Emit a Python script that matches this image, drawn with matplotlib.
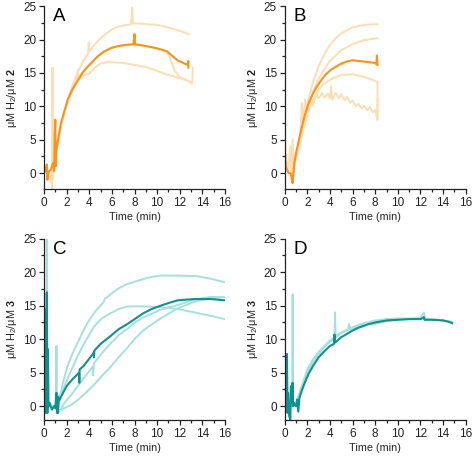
import matplotlib
matplotlib.use("Agg")
import matplotlib.pyplot as plt
from matplotlib.ticker import MultipleLocator

plt.rcParams['font.family'] = ['Liberation Sans', 'DejaVu Sans']
plt.rcParams['mathtext.fontset'] = 'custom'
plt.rcParams['mathtext.rm'] = 'Liberation Sans'
plt.rcParams['mathtext.bf'] = 'Liberation Sans:bold'

orange = "#F7931E"
orange_light = "#FDDDB3"
teal = "#11918E"
teal_light = "#A6E0DD"

# ---- panel A ----
a_main_t = [0, 0.15, 0.25, 0.3, 0.4, 0.6, 0.8, 0.9, 0.95, 1.0, 1.05, 1.1, 1.3, 1.5, 1.8, 2.1, 2.5, 3, 3.4, 3.8, 4.2, 4.7, 5.3, 5.9, 6.5, 7.2, 7.9, 8.0, 8.05, 8.8, 9.7, 10.4, 10.9, 11.3, 11.8, 12.3, 12.7, 12.75, 12.75]
a_main_y = [0, 0.5, 1.3, -1, 0.2, 0.5, 1.5, 0.3, 6, 8, 1, 3.5, 5.5, 7.5, 9.3, 11, 12.5, 13.9, 15, 15.8, 16.5, 17.4, 18.2, 18.7, 19.0, 19.2, 19.3, 20.8, 19.3, 19.1, 18.8, 18.5, 18.2, 17.6, 16.9, 16.5, 16.2, 16.8, 15.8]
a_l1_t = [0.7, 0.75, 0.8, 1, 1.5, 2, 2.5, 3, 3.5, 3.9, 3.95, 4, 4.5, 5, 5.5, 6, 6.5, 7, 7.7, 7.8, 7.85, 8.5, 9, 10, 11, 12, 12.8]
a_l1_y = [-2.4, 5, 0, 2.5, 7, 10.3, 13, 15.2, 16.9, 17.9, 19.5, 18.2, 19.3, 20.2, 20.9, 21.5, 21.9, 22.1, 22.3, 24.8, 22.4, 22.4, 22.3, 22.2, 21.8, 21.3, 20.8]
a_l2_t = [0.5, 0.7, 0.75, 0.8, 1, 1.5, 2, 2.5, 2.9, 3.0, 3.05, 3.5, 4, 4.5, 5, 5.5, 6, 7, 8, 9, 10, 11, 12, 12.8, 13.1, 13.15]
a_l2_y = [0, -2, 15.8, -1, 2.5, 7.2, 10.3, 12.5, 13.8, 15.5, 14, 14.6, 14.9, 15.8, 16.4, 16.6, 16.6, 16.5, 16.2, 15.9, 15.3, 14.7, 14.2, 13.8, 13.5, 15.8]
a_l3_t = [1, 1.5, 2, 2.5, 3, 3.5, 4, 5, 6, 7, 8, 9, 10, 10.8, 11.1, 11.5, 12, 12.5, 13.05]
a_l3_y = [3, 7.2, 10.2, 12.3, 14.1, 15.3, 16.3, 17.9, 18.8, 19.1, 19.2, 19.0, 18.6, 18.3, 17.4, 15.5, 14.4, 14.0, 13.4]

# ---- panel B ----
b_main_t = [0, 0.05, 0.1, 0.2, 0.35, 0.5, 0.6, 0.7, 0.75, 0.85, 1, 1.2, 1.5, 1.8, 2.1, 2.5, 2.9, 3.3, 3.7, 4.1, 4.5, 5, 5.5, 6, 6.5, 7, 7.5, 8, 8.1, 8.15, 8.2]
b_main_y = [6, 2, 1, 0.5, 0, 0, -0.5, -1.5, -0.5, 1.5, 3, 4.5, 6.8, 8.8, 10.4, 11.9, 13.1, 14.1, 14.9, 15.5, 15.9, 16.4, 16.7, 16.9, 16.8, 16.7, 16.6, 16.5, 16.3, 17.6, 16.2]
b_l1_t = [1, 1.5, 2, 2.5, 3, 3.5, 4, 4.5, 5, 5.5, 6, 7, 8.2]
b_l1_y = [2, 6.3, 10.3, 13.6, 16, 17.8, 19.2, 20.2, 20.9, 21.4, 21.8, 22.2, 22.3]
b_l2_t = [1, 1.5, 2, 2.5, 3, 3.5, 4, 5, 6, 7, 8.2]
b_l2_y = [2, 5.8, 9.5, 12.2, 14.1, 15.6, 16.8, 18.4, 19.3, 19.9, 20.2]
b_l3_t = [1, 1.5, 2, 2.5, 3, 3.5, 4, 5, 6, 7, 8.2, 8.2]
b_l3_y = [2, 5.5, 8.8, 11, 12.5, 13.4, 14, 14.7, 14.8, 14.4, 13.7, 8]
b_l4_t = [0, 0.05, 0.3, 0.5, 0.6, 0.7, 0.8, 1, 1.4, 1.5, 1.6, 1.8, 2, 2.3, 2.5, 2.8, 3, 3.3, 3.5, 3.8, 4, 4.1, 4.2, 4.5, 4.8, 5, 5.3, 5.5, 5.8, 6, 6.3, 6.5, 6.8, 7, 7.3, 7.5, 7.8, 8, 8.2, 8.2]
b_l4_y = [19, 3, 0.5, 4, -1, 5, 0, 2.5, 6, 10.5, 7.5, 11, 9.5, 10.8, 10.2, 11.8, 11.2, 12, 11.3, 11.9, 11.2, 13, 11, 12, 11.2, 11.8, 10.9, 11.4, 10.5, 10.9, 10, 10.4, 9.7, 10.1, 9.4, 9.9, 9.1, 9.5, 8, 11]

# ---- panel C ----
c_main_t = [0, 0.05, 0.1, 0.15, 0.2, 0.25, 0.3, 0.35, 0.4, 0.5, 0.7, 0.9, 1.0, 1.1, 1.15, 1.2, 1.25, 1.3, 1.35, 2, 2.5, 3.1, 3.12, 3.15, 3.5, 4, 4.4, 4.42, 4.45, 5, 5.9, 6.6, 7.4, 8.1, 8.8, 9.5, 10.3, 11, 11.8, 12.5, 13.3, 14, 14.7, 15.4, 16]
c_main_y = [5, 14.5, 0, -1, 2, 17, -1, 8.5, 0, 0.5, -0.5, 0, -0.3, 2, -1, 1.5, -1, 1.3, 0.9, 3.0, 4.0, 5.0, 3.5, 5.5, 6.0, 7.1, 8.0, 7.3, 8.3, 9.3, 10.5, 11.5, 12.3, 13.1, 13.9, 14.5, 15.0, 15.4, 15.8, 15.9, 16.0, 16.0, 16.0, 15.9, 15.8]
c_l1_t = [0.2, 0.25, 0.3, 1.05, 1.1, 1.15, 1.3, 1.6, 2.06, 2.5, 2.95, 3.4, 3.83, 4.5, 5.3, 5.35, 6.5, 7.3, 8.25, 9.2, 10.3, 11.8, 13.6, 14.8, 16]
c_l1_y = [0, 26, 0, 0, 9, 0, 0.5, 3, 5.9, 7.8, 9.4, 11.0, 12.4, 14.1, 15.6, 16.0, 17.5, 18.2, 18.7, 19.2, 19.5, 19.5, 19.4, 19.0, 18.5]
c_l2_t = [1.3, 1.8, 2.4, 2.95, 3.6, 4.42, 5.1, 5.9, 6.6, 7.4, 8.84, 10.3, 11.8, 13.3, 14.7, 16]
c_l2_y = [0.5, 3.0, 5.3, 7.4, 9.5, 11.9, 13.1, 13.9, 14.5, 14.9, 14.9, 14.8, 14.5, 14.0, 13.5, 13.0]
c_l3_t = [1.5, 1.77, 2.4, 2.95, 3.6, 4.3, 4.32, 4.42, 5.1, 5.9, 6.6, 7.4, 8.1, 8.84, 10.3, 11.8, 13.3, 14.7, 16]
c_l3_y = [-0.5, 0.4, 1.7, 2.9, 4.4, 5.9, 4.6, 6.4, 7.9, 9.4, 10.6, 11.6, 12.6, 13.3, 14.4, 15.1, 15.9, 16.3, 16.3]
c_l4_t = [1.6, 1.77, 2.4, 2.95, 3.7, 4.42, 5.1, 5.9, 6.6, 7.4, 8.1, 8.84, 9.6, 10.3, 11.1, 11.8, 13.3, 14.7, 16]
c_l4_y = [-0.5, -0.3, 0.2, 0.9, 2.0, 3.2, 4.5, 5.9, 7.3, 8.8, 10.2, 11.4, 12.3, 13.1, 13.9, 14.6, 15.6, 16.1, 16.3]

# ---- panel D ----
d_main_t = [0, 0.05, 0.1, 0.15, 0.2, 0.25, 0.3, 0.4, 0.5, 0.55, 0.6, 0.7, 0.75, 0.8, 1, 1.1, 1.2, 1.3, 1.5, 1.8, 2.1, 2.5, 3, 3.5, 4, 4.35, 4.4, 4.45, 5, 5.5, 6, 6.5, 7, 7.5, 8, 9, 10, 11, 12, 12.3, 12.35, 13, 14, 14.5, 14.8]
d_main_y = [8, 0, 7.5, 0.5, 7.8, -1, 2, -1.5, -2, 3, 0.5, 3.5, 0, 0.5, 0, 1, -0.8, 1.2, 2.3, 3.6, 4.8, 6.0, 7.3, 8.2, 9.0, 9.3, 10.7, 9.5, 10.3, 10.8, 11.3, 11.7, 12.0, 12.3, 12.5, 12.8, 12.9, 13.0, 13.0, 13.3, 12.9, 12.9, 12.8, 12.6, 12.4]
d_l1_t = [0, 0.3, 0.65, 0.7, 0.75, 1, 1.5, 2, 2.5, 3, 3.5, 4, 4.4, 4.45, 4.5, 5, 5.6, 5.7, 5.8, 6, 7, 8, 9, 10, 11, 12, 12.3, 12.4, 13, 14, 14.8]
d_l1_y = [9, 0, 0, 16.7, 0, 0.5, 3, 5.5, 7.0, 8.1, 9.0, 9.8, 10.3, 14, 10.5, 11, 11.5, 12.3, 11.5, 11.6, 12.2, 12.3, 12.7, 13, 13, 13.2, 14, 13, 13, 12.8, 12.5]
d_l2_t = [1.2, 1.5, 2, 2.5, 3, 3.5, 4, 5, 6, 7, 8, 9, 10, 11, 12, 13, 14, 14.8]
d_l2_y = [0.5, 2.8, 5.0, 6.6, 7.8, 8.8, 9.6, 10.9, 11.8, 12.4, 12.8, 13.0, 13.1, 13.1, 13.1, 13.0, 12.8, 12.6]

fig = plt.figure(figsize=(4.74, 4.58), dpi=100)
axA = fig.add_axes([0.0928, 0.587, 0.382, 0.3996])
axB = fig.add_axes([0.6006, 0.587, 0.382, 0.3996])
axC = fig.add_axes([0.0928, 0.0823, 0.382, 0.3965])
axD = fig.add_axes([0.6006, 0.0823, 0.382, 0.3965])

lw_l = 1.4
lw_m = 1.5
axA.plot(a_l1_t, a_l1_y, color=orange_light, lw=lw_l)
axA.plot(a_l2_t, a_l2_y, color=orange_light, lw=lw_l)
axA.plot(a_l3_t, a_l3_y, color=orange_light, lw=lw_l)
axA.plot(a_main_t, a_main_y, color=orange, lw=lw_m)

axB.plot(b_l4_t, b_l4_y, color=orange_light, lw=lw_l)
axB.plot(b_l1_t, b_l1_y, color=orange_light, lw=lw_l)
axB.plot(b_l2_t, b_l2_y, color=orange_light, lw=lw_l)
axB.plot(b_l3_t, b_l3_y, color=orange_light, lw=lw_l)
axB.plot(b_main_t, b_main_y, color=orange, lw=lw_m)

axC.plot(c_l1_t, c_l1_y, color=teal_light, lw=lw_l)
axC.plot(c_l2_t, c_l2_y, color=teal_light, lw=lw_l)
axC.plot(c_l3_t, c_l3_y, color=teal_light, lw=lw_l)
axC.plot(c_l4_t, c_l4_y, color=teal_light, lw=lw_l)
axC.plot(c_main_t, c_main_y, color=teal, lw=lw_m)

axD.plot(d_l2_t, d_l2_y, color=teal_light, lw=lw_l)
axD.plot(d_l1_t, d_l1_y, color=teal_light, lw=lw_l)
axD.plot(d_main_t, d_main_y, color=teal, lw=lw_m)

for ax, letter, cpd, ymin in [(axA, "A", "2", -2.4), (axB, "B", "2", -2.4),
                              (axC, "C", "3", -2.1), (axD, "D", "3", -2.1)]:
    ax.set_xlim(0, 16)
    ax.set_ylim(ymin, 25)
    ax.spines['top'].set_visible(False)
    ax.spines['right'].set_visible(False)
    ax.xaxis.set_major_locator(MultipleLocator(2))
    ax.xaxis.set_minor_locator(MultipleLocator(1))
    ax.yaxis.set_major_locator(MultipleLocator(5))
    ax.yaxis.set_minor_locator(MultipleLocator(2.5))
    ax.tick_params(which='major', length=3.5, width=0.9, labelsize=8.5, pad=2, colors='#222222')
    ax.tick_params(which='minor', length=2, width=0.9, colors='#222222')
    for s in ax.spines.values():
        s.set_linewidth(0.9)
        s.set_color('#222222')
    ax.set_xlabel("Time (min)", fontsize=7.8, labelpad=2, color='#222222')
    ax.set_ylabel(r"μM H$_2$/μM $\mathbf{" + cpd + "}$", fontsize=7.8, labelpad=3, color='#222222')
    ax.text(0.05, 0.99, letter, transform=ax.transAxes, fontsize=13.5, va='top', ha='left')

fig.savefig("out.png", dpi=100)
